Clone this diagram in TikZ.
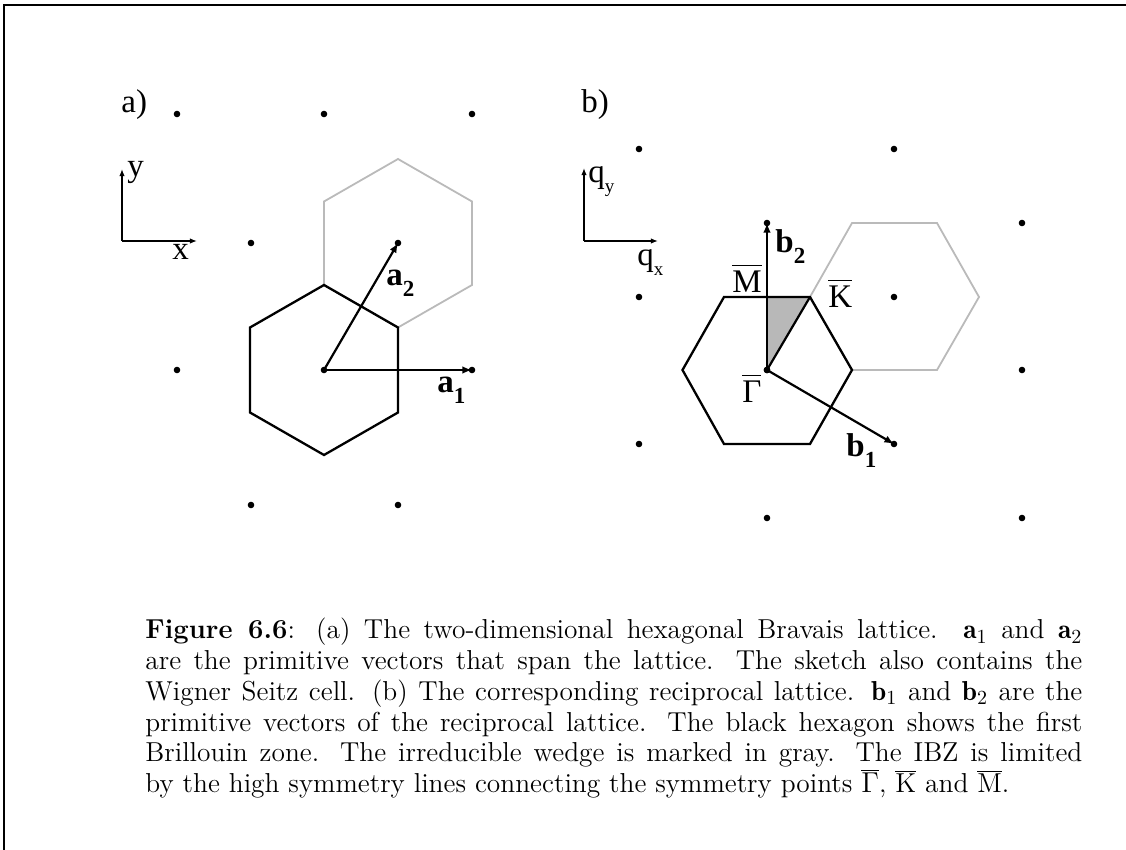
\documentclass[tikz,border=0pt]{standalone}
\usepackage{fontspec}
\newfontfamily\tms{Liberation Serif}
\usetikzlibrary{arrows.meta}
\newcommand{\ovl}[1]{\leavevmode\vbox{\hrule height 0.75pt\kern 2.6pt\hbox{#1}}}
\newcommand{\vsub}[2]{\textbf{#1}\raisebox{-0.32em}{\fontsize{11.5}{13}\selectfont\bfseries #2}}
\newcommand{\qsub}[1]{q\raisebox{-0.28em}{\fontsize{9.5}{11}\selectfont #1}}
\begin{document}
\begin{tikzpicture}[x=0.5pt,y=-0.5pt,
  frame/.style={line width=1pt},
  dot/.style={circle,fill=black,inner sep=0pt,minimum size=3.3pt},
  bz/.style={line width=1.15pt,line join=miter},
  ghex/.style={line width=0.9pt,draw=black!27},
  vec/.style={line width=1.1pt,-{Latex[length=4.8pt,width=3.8pt]}},
  axis/.style={line width=0.7pt,-{Latex[length=3.6pt,width=2.8pt]}},
  lab/.style={font=\tms\fontsize{16.5}{19}\selectfont,inner sep=0pt,anchor=base west},
  wedge/.style={fill=black!28}]
\useasboundingbox (0,0) rectangle (1126,850);
% frame
\coordinate (F1) at (4,850); \coordinate (F2) at (4,5); \coordinate (F3) at (1126,5);
\draw[frame] (F1) -- (F2) -- (F3);

% ---------------- panel a ----------------
\draw[ghex] (398,159) -- (472,201.5) -- (472,285) -- (398,327.5) -- (324,285) -- (324,201.5) -- cycle;
\draw[bz] (324,285) -- (398,327.5) -- (398,412.5) -- (324,455) -- (250,412.5) -- (250,327.5) -- cycle;
\node[dot] (a11) at (177,114) {};
\node[dot] (a12) at (324,114) {};
\node[dot] (a13) at (472,114) {};
\node[dot] (a21) at (251,243) {};
\node[dot] (A2) at (398,243) {};
\node[dot] (a31) at (177,370) {};
\node[dot] (AO) at (324,370) {};
\node[dot] (A1) at (472,370) {};
\node[dot] (a41) at (251,505) {};
\node[dot] (a42) at (398,505) {};
\draw[vec] (AO.center) -- (A1.center);
\draw[vec] (AO.center) -- (A2.center);
\coordinate (Ca) at (122,241); \coordinate (Xa) at (197,241); \coordinate (Ya) at (122,169);
\draw[axis] (Ca) -- (Xa);
\draw[axis] (Ca) -- (Ya);
\node[lab] (la) at (121,113) {a)};
\node[lab] (ly) at (127,177) {y};
\node[lab] (lx) at (172,260) {x};
\node[lab] (la1) at (437,393) {\vsub{a}{1}};
\node[lab] (la2) at (386,286) {\vsub{a}{2}};

% ---------------- panel b ----------------
\coordinate (Mb) at (767,297); \coordinate (Kb) at (810,297);
\node[dot] (G) at (767,370) {};
\fill[wedge] (G.center) -- (Mb) -- (Kb) -- cycle;
\draw[ghex] (810,297) -- (852,223) -- (937,223) -- (979,297) -- (937,370) -- (852,370) -- cycle;
\draw[bz] (682.5,370) -- (724,297) -- (810,297) -- (852,370) -- (810,444) -- (724,444) -- cycle;
\draw[line width=1.1pt] (G.center) -- (Kb);
\node[dot] (b11) at (639,149) {};
\node[dot] (b12) at (894,149) {};
\node[dot] (b13) at (1022,223) {};
\node[dot] (B2) at (767,223) {};
\node[dot] (b21) at (639,297) {};
\node[dot] (b22) at (894,297) {};
\node[dot] (b31) at (1022,370) {};
\node[dot] (b41) at (639,444) {};
\node[dot] (B1) at (894,444) {};
\node[dot] (b51) at (767,518) {};
\node[dot] (b52) at (1022,518) {};
\node[dot] (G2) at (767,370) {};
\draw[vec] (G.center) -- (B1.center);
\draw[vec] (G.center) -- (B2.center);
\coordinate (Cb) at (584,241); \coordinate (Xb) at (658,241); \coordinate (Yb) at (584,168);
\draw[axis] (Cb) -- (Xb);
\draw[axis] (Cb) -- (Yb);
\node[lab] (lb) at (581,113) {b)};
\node[lab] (lqy) at (588,183) {\qsub{y}};
\node[lab] (lqx) at (637,266) {\qsub{x}};
\node[lab] (lb1) at (846,457) {\vsub{b}{1}};
\node[lab] (lb2) at (775,253) {\vsub{b}{2}};
\node[lab] (lM) at (732,293) {\ovl{M}};
\node[lab] (lK) at (828,308) {\ovl{K}};
\node[lab] (lG) at (742,403) {\ovl{Γ}};

% ---------------- caption ----------------
\node[anchor=north west,inner sep=0pt] (cap) at (145,618) {\parbox{468.5pt}{\fontsize{13.7}{15.35}\selectfont\parindent=0pt
\textbf{Figure 6.6}: (a) The two-dimensional hexagonal Bravais lattice. $\mathbf{a}_1$ and $\mathbf{a}_2$\linebreak
are the primitive vectors that span the lattice. The sketch also contains the\linebreak
Wigner Seitz cell. (b) The corresponding reciprocal lattice. $\mathbf{b}_1$ and $\mathbf{b}_2$ are the\linebreak
primitive vectors of the reciprocal lattice. The black hexagon shows the first\linebreak
Brillouin zone. The irreducible wedge is marked in gray. The IBZ is limited\linebreak
by the high symmetry lines connecting the symmetry points $\overline{\Gamma}$, $\overline{\rm K}$ and $\overline{\rm M}$.}};
\end{tikzpicture}
\end{document}
